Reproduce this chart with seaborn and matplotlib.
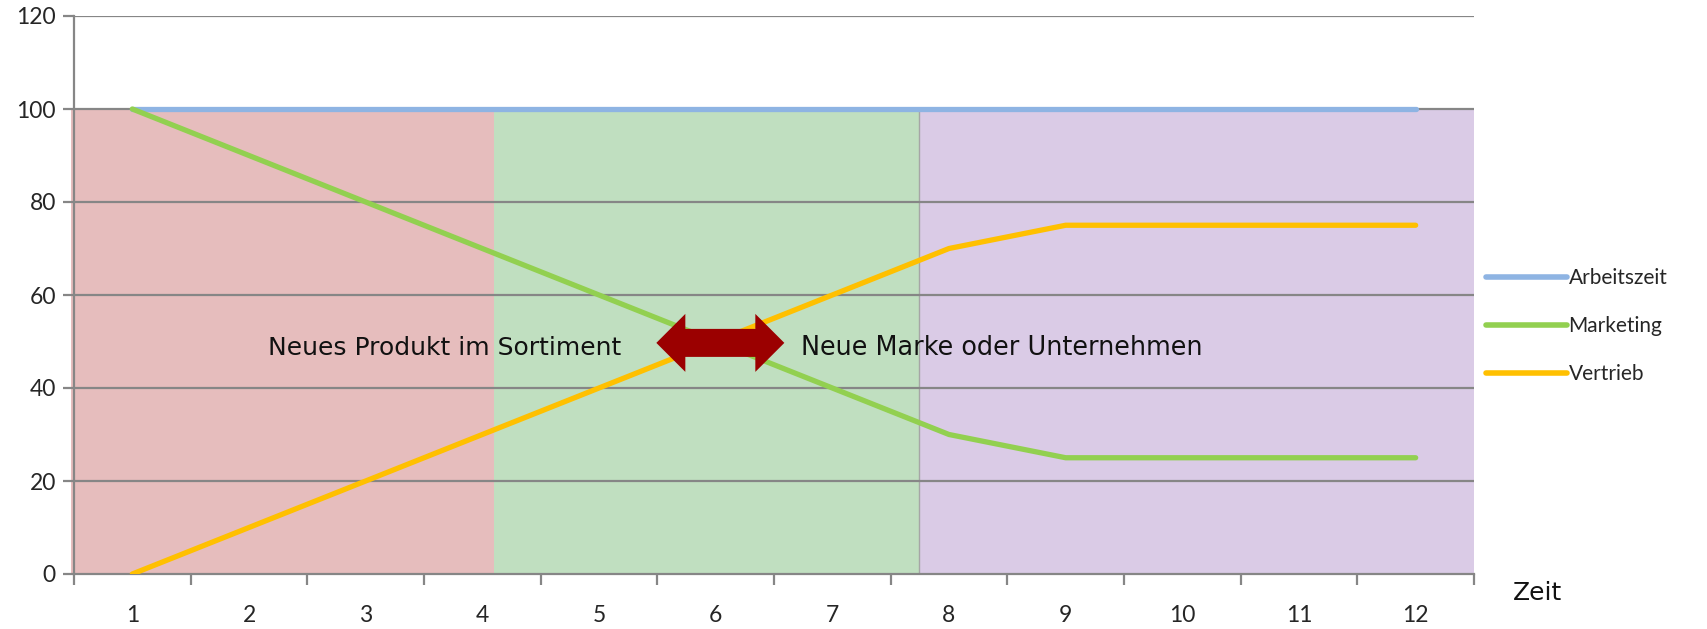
import numpy as np
import pandas as pd
import matplotlib
matplotlib.use("Agg")
import matplotlib.pyplot as plt
import matplotlib.transforms as mtransforms
from matplotlib.patches import Polygon
from matplotlib.lines import Line2D
import seaborn as sns

# --- data -------------------------------------------------------------
zeit = [1, 2, 3, 4, 5, 6, 7, 8, 9, 10, 11, 12]
arbeitszeit = [100, 100, 100, 100, 100, 100, 100, 100, 100, 100, 100, 100]
marketing = [100, 90, 80, 70, 60, 50, 40, 30, 25, 25, 25, 25]
vertrieb = [0, 10, 20, 30, 40, 50, 60, 70, 75, 75, 75, 75]
series_names = ["Arbeitszeit", "Marketing", "Vertrieb"]
y_ticks = [0, 20, 40, 60, 80, 100, 120]

# phase band boundaries on the time axis
phase_edges = [0.47, 4.1, 7.74, 12.5]
phase_colors = ["#E6BDBD", "#C0DFC0", "#DACBE6"]
label_left = "Neues Produkt im Sortiment"
label_right = "Neue Marke oder Unternehmen"
x_title = "Zeit"

colors = {"Arbeitszeit": "#8EB4E3", "Marketing": "#92D050", "Vertrieb": "#FFC000"}

df = pd.DataFrame({
    "Zeit": zeit * 3,
    "Wert": arbeitszeit + marketing + vertrieb,
    "Reihe": [n for n in series_names for _ in zeit],
})

sns.set_theme(style="white")
plt.rcParams["font.family"] = ["Lato", "DejaVu Sans"]

fig = plt.figure(figsize=(17.07, 6.29), dpi=100)
ax = fig.add_axes([74 / 1707, 55 / 629, 1400 / 1707, 558 / 629])

# coloured phase backgrounds up to 100
for (x0, x1), c in zip(zip(phase_edges[:-1], phase_edges[1:]), phase_colors):
    ax.fill_between([x0, x1], 0, 100, color=c, lw=0, zorder=0, clip_on=False)
ax.axvline(phase_edges[2], ymax=100 / 120, color="#A6A6A6", lw=1, zorder=0.5)

# horizontal gridlines
for yv in y_ticks[1:]:
    ax.axhline(yv, color="#868686", lw=1.6, zorder=1)

sns.lineplot(data=df, x="Zeit", y="Wert", hue="Reihe", palette=colors,
             linewidth=3.8, ax=ax, legend=False, zorder=3,
             solid_capstyle="round")

ax.set_xlim(0.5, 12.5)
ax.set_ylim(0, 120)
ax.set_xticks(zeit)
ax.set_xticklabels([str(v) for v in zeit])
ax.set_yticks(y_ticks)
ax.set_xlabel("")
ax.set_ylabel("")

# tick marks at category boundaries
ax.set_xticks(np.arange(0.5, 13.0, 1.0), minor=True)
ax.tick_params(axis="x", which="major", length=0, pad=22, labelsize=16.5)
ax.tick_params(axis="x", which="minor", length=8, width=1.6, color="#868686",
               direction="out", bottom=True)
ax.tick_params(axis="y", length=8, width=1.6, color="#868686", direction="out",
               left=True, labelsize=16.5, pad=5)

for side in ["top", "right"]:
    ax.spines[side].set_visible(False)
for side in ["left", "bottom"]:
    ax.spines[side].set_color("#868686")
    ax.spines[side].set_linewidth(1.6)
    ax.spines[side].set_zorder(2)

# phase labels
ax.text(5.19, 48.6, label_left, ha="right", va="center", fontsize=18,
        family=["DejaVu Sans"], color="#111111", zorder=4)
ax.text(6.73, 48.6, label_right, ha="left", va="center", fontsize=18.4,
        family=["DejaVu Sans"], color="#111111", zorder=4)

# double-headed arrow between the phases (drawn in inches around a data anchor)
w, hl, hh, sh = 1.28 / 2, 0.29, 0.58 / 2, 0.28 / 2
pts = [(-w, 0), (-w + hl, hh), (-w + hl, sh), (w - hl, sh), (w - hl, hh),
       (w, 0), (w - hl, -hh), (w - hl, -sh), (-w + hl, -sh), (-w + hl, -hh)]
trans = fig.dpi_scale_trans + mtransforms.ScaledTranslation(6.04, 49.7, ax.transData)
ax.add_patch(Polygon(pts, closed=True, facecolor="#9B0000", edgecolor="none",
                     transform=trans, zorder=5, clip_on=False))

# axis title at the end of the time axis
fig.text(1513 / 1707, 1 - 593 / 629, x_title, ha="left", va="center",
         fontsize=18, family=["DejaVu Sans"], color="#111111")

# legend
handles = [Line2D([], [], color=colors[n], lw=4, solid_capstyle="round")
           for n in series_names]
fig.legend(handles, series_names, loc="center left",
           bbox_to_anchor=(1478 / 1707, 1 - 326 / 629), frameon=False,
           fontsize=15, handlelength=3.85, handletextpad=0.1,
           labelspacing=1.35, borderaxespad=0)

fig.savefig("out.png", dpi=100)
